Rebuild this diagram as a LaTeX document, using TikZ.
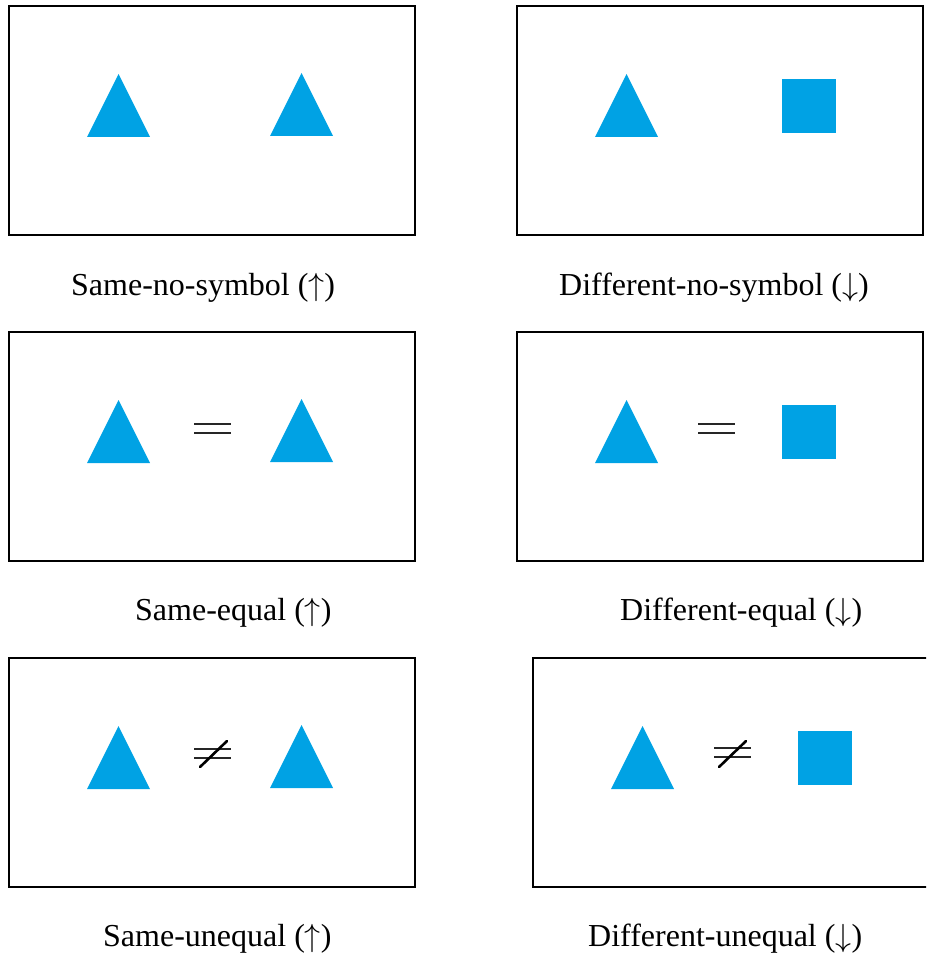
\RequirePackage{fix-cm}
\documentclass[tikz,border=0pt]{standalone}
\usepackage{fontspec}
\setmainfont{Liberation Serif}
\definecolor{shapeblue}{RGB}{0,162,228}
\tikzset{
  panel/.style={draw=black, line width=2pt, minimum width=406pt, minimum height=229pt, inner sep=0pt},
  solidshape/.style={fill=shapeblue},
  caption/.style={font=\fontsize{32}{38}\selectfont, inner sep=0pt, anchor=base west},
  relbar/.style={line width=2.2pt, draw=black!85},
  slashbar/.style={line width=2.6pt, draw=black, line cap=round},
}
% triangle with its lower-left corner at (#1,#2), 63 wide and 63 tall
\newcommand{\bluetri}[2]{\fill[solidshape] (#1,#2) -- ++(63,0) -- ++(-31.5,-63) -- cycle;}
% square with its upper-left corner at (#1,#2), 54 on a side
\newcommand{\bluesq}[2]{\fill[solidshape] (#1,#2) rectangle ++(54,54);}
% equal sign starting at (#1,#2), 37 wide
\newcommand{\eqsign}[2]{\draw[relbar] (#1,#2) -- ++(37,0); \draw[relbar] (#1,#2+9) -- ++(37,0);}
\newcommand{\up}{$\uparrow$}
\newcommand{\down}{$\downarrow$}
\begin{document}
\begin{tikzpicture}[x=1pt,y=-1pt]
  \useasboundingbox (0,0) rectangle (926,957);
  \clip (0,0) rectangle (926,957);

  % panels
  \node[panel] (p1) at (212,120.5) {};
  \node[panel] (p2) at (720,120.5) {};
  \node[panel] (p3) at (212,446.5) {};
  \node[panel] (p4) at (720,446.5) {};
  \node[panel] (p5) at (212,772.5) {};
  \node[panel] (p6) at (736,772.5) {};

  % row 1: no symbol
  \bluetri{87}{137}
  \bluetri{270}{136}
  \bluetri{595}{137}
  \bluesq{782}{79}

  % row 2: equal sign
  \bluetri{87}{463}
  \eqsign{194}{424}
  \bluetri{270}{462}
  \bluetri{595}{463}
  \eqsign{698}{424}
  \bluesq{782}{405}

  % row 3: unequal sign
  \bluetri{87}{789}
  \eqsign{194}{749}
  \draw[slashbar] (200,767) -- (227,741);
  \bluetri{270}{788}
  \bluetri{611}{789}
  \eqsign{714}{748}
  \draw[slashbar] (719,767) -- (746,741);
  \bluesq{798}{731}

  % captions
  \node[caption] (c1) at (71,295) {Same-no-symbol (\up)};
  \node[caption] (c2) at (559,295) {Different-no-symbol (\down)};
  \node[caption] (c3) at (135,620) {Same-equal (\up)};
  \node[caption] (c4) at (620,620) {Different-equal (\down)};
  \node[caption] (c5) at (103,946) {Same-unequal (\up)};
  \node[caption] (c6) at (588,946) {Different-unequal (\down)};
\end{tikzpicture}
\end{document}
